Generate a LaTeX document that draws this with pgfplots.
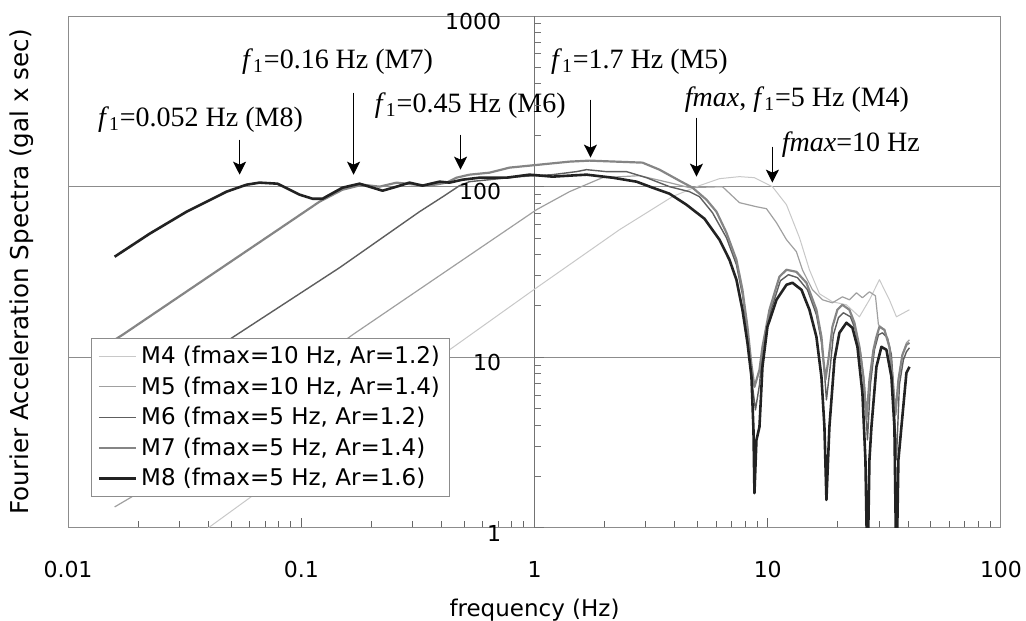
\documentclass[border=0pt]{standalone}
\usepackage{fontspec}
\setmainfont{DejaVu Sans}
\newfontfamily\seriffont{Liberation Serif}
\usepackage{pgfplots}
\pgfplotsset{compat=1.18}
\usetikzlibrary{arrows.meta}
\definecolor{cM4}{HTML}{C8C8C8}
\definecolor{cM5}{HTML}{A0A0A0}
\definecolor{cM6}{HTML}{5E5E5E}
\definecolor{cM7}{HTML}{858585}
\definecolor{cM8}{HTML}{222222}
\definecolor{frame}{HTML}{8C8C8C}
\begin{document}
\begin{tikzpicture}
\begin{axis}[name=main,
  scale only axis, width=466.5pt, height=256pt,
  xmode=log, ymode=log,
  xmin=0.01, xmax=100, ymin=1, ymax=1000,
  clip mode=individual,
  axis line style={draw=frame, line width=0.5pt},
  xtick={0.01,0.1,1,10,100}, xticklabels={0.01,0.1,1,10,100},
  xtick pos=bottom, tick align=inside,
  x tick style={draw=black!60, line width=0.5pt},
  major tick length=5pt, minor tick length=3.5pt,
  xticklabel style={font=\fontsize{11}{13}\selectfont, yshift=-13pt},
  ytick=\empty, yminorticks=false,
  xlabel={frequency (Hz)},
  xlabel style={at={(axis description cs:0.5,-0.16)}, anchor=center, font=\fontsize{11.5}{13}\selectfont},
  ylabel={Fourier Acceleration Spectra (gal x sec)},
  ylabel style={at={(axis description cs:-0.0493,0.5)}, anchor=center, font=\fontsize{12.3}{14}\selectfont},
  legend style={at={(0.0247,0.0605)}, anchor=south west, draw=frame, line width=0.5pt, fill=white,
    font=\fontsize{11.5}{13}\selectfont, inner xsep=3pt, inner ysep=2pt, row sep=1pt},
  legend cell align=left,
  legend image code/.code={\draw[#1] (0pt,0pt) -- (18.5pt,0pt);},
]
\draw[frame, line width=0.5pt] (axis cs:0.01,10) -- (axis cs:100,10);
\draw[frame, line width=0.5pt] (axis cs:0.01,100) -- (axis cs:100,100);
\draw[black!55, line width=0.5pt] (axis cs:1,1) -- (axis cs:1,1000);
\coordinate (BL) at (rel axis cs:-0.0729,-0.1816);
\coordinate (TR) at (rel axis cs:1.0268,1.0313);

\addplot[cM4, line width=0.5pt, line join=round] coordinates {
(0.01584,0.40) (0.04045,1.014) (0.06003,1.50) (0.4322,11.07) (1.020,25.56) (2.314,55.95) (3.904,87.4) (4.948,100.0) (6.209,111.4) (7.562,114.5) (8.770,112.9) (10.47,100.0) (12.03,78.4) (13.68,50.2) (15.09,32.6) (16.66,23.57) (18.94,21.16) (21.74,20.32) (24.72,17.28) (27.29,21.74) (30.12,28.5) (33.23,21.74) (35.62,17.28) (40.50,19.0)
};
\addlegendentry{M4 (fmax=10 Hz, Ar=1.2)}
\addplot[cM5, line width=0.6pt, line join=round] coordinates {
(0.01584,1.328) (0.01874,1.52) (0.06003,4.92) (0.1659,13.55) (0.4322,33.0) (1.020,73.3) (1.413,93.5) (1.956,112.9) (2.818,116.0) (3.790,105.6) (4.618,98.7) (6.394,100.0) (7.562,80.6) (8.944,76.3) (9.872,74.3) (10.90,61.5) (12.03,48.9) (13.27,41.6) (14.08,32.6) (15.55,24.88) (17.16,21.74) (18.94,20.87) (20.90,22.63) (22.39,21.74) (24.00,23.89) (25.46,22.34) (27.29,24.22) (28.95,22.95) (29.83,15.51) (31.64,14.50) (33.23,11.52) (34.23,7.69) (35.27,4.60) (36.33,7.38) (37.79,10.34) (39.32,12.17) (40.50,12.66)
};
\addlegendentry{M5 (fmax=10 Hz, Ar=1.4)}
\addplot[cM6, line width=0.7pt, line join=round] coordinates {
(0.01584,4.66) (0.0528,13.55) (0.1459,33.5) (0.3214,71.35) (0.4113,88.6) (0.4771,101.4) (0.5265,107.0) (0.6414,109.9) (0.8623,114.5) (1.195,117.6) (1.514,122.5) (1.671,125.8) (2.035,122.5) (2.480,122.5) (3.020,112.9) (3.790,100.0) (4.618,93.5) (5.096,87.4) (5.794,70.4) (6.653,50.2) (7.341,34.9) (7.791,23.3) (8.185,14.11) (8.514,7.58) (8.857,4.92) (9.214,6.90) (9.491,11.07) (10.27,18.49) (11.33,28.1) (12.27,30.5) (13.41,29.3) (14.80,24.88) (16.17,17.76) (16.99,12.33) (17.50,8.22) (17.85,5.63) (18.57,9.04) (19.12,13.55) (20.09,17.05) (21.11,18.24) (22.62,17.28) (23.76,14.50) (24.96,10.77) (25.97,6.90) (26.76,3.28) (27.55,6.90) (28.67,11.07) (29.83,13.55) (31.02,13.92) (32.60,13.01) (33.90,10.34) (34.57,6.90) (35.62,2.51) (36.69,6.90) (38.16,9.67) (39.32,10.77) (40.50,11.37)
};
\addlegendentry{M6 (fmax=5 Hz, Ar=1.2)}
\addplot[cM7, line width=1.1pt, line join=round] coordinates {
(0.01584,12.66) (0.01714,13.55) (0.03664,27.35) (0.08072,56.7) (0.1198,81.7) (0.1503,96.0) (0.1832,102.7) (0.2166,100.0) (0.2562,105.6) (0.3120,102.7) (0.3548,101.4) (0.4196,105.6) (0.4629,112.9) (0.5265,117.6) (0.6414,120.8) (0.7813,129.3) (0.9519,132.8) (1.413,140.2) (1.721,142.1) (2.904,138.3) (3.434,125.8) (4.183,108.4) (4.756,98.7) (5.461,83.9) (6.027,71.35) (6.653,53.7) (7.341,37.3) (7.791,24.88) (8.185,15.10) (8.514,9.04) (8.770,6.71) (9.214,8.45) (9.491,11.52) (10.17,19.0) (11.22,29.66) (12.03,32.6) (13.27,31.7) (14.65,27.35) (16.17,19.0) (16.99,13.19) (17.33,9.67) (17.67,7.38) (18.20,9.67) (18.94,15.10) (19.89,19.0) (20.90,20.32) (22.39,19.0) (23.53,15.94) (24.72,11.52) (25.71,7.69) (26.49,4.30) (27.29,7.38) (28.39,11.07) (29.24,13.19) (30.12,15.10) (31.64,14.50) (33.23,11.52) (34.23,7.69) (35.27,4.60) (36.33,7.38) (37.79,10.34) (39.32,11.84) (40.50,12.17)
};
\addlegendentry{M7 (fmax=5 Hz, Ar=1.4)}
\addplot[cM8, line width=1.3pt, line join=round] coordinates {
(0.01584,38.86) (0.02238,53.0) (0.03224,71.35) (0.04785,93.5) (0.05826,102.7) (0.06628,105.6) (0.07913,104.1) (0.09833,89.8) (0.1118,85.0) (0.1234,85.0) (0.1503,98.7) (0.1778,104.1) (0.2231,94.7) (0.2562,100.0) (0.2912,105.6) (0.3311,101.4) (0.3916,107.0) (0.4322,105.6) (0.4913,109.9) (0.5810,112.9) (0.7586,112.9) (0.9519,117.6) (1.195,114.5) (1.671,117.6) (2.160,112.9) (2.736,107.0) (3.205,98.7) (3.790,90.97) (4.483,78.4) (5.354,64.9) (6.209,48.9) (6.852,37.3) (7.341,28.5) (7.791,19.0) (8.185,12.17) (8.514,7.69) (8.685,3.76) (8.770,1.60) (8.944,3.28) (9.214,3.91) (9.491,8.80) (9.970,15.10) (10.90,21.74) (12.03,26.62) (12.76,27.35) (13.95,24.88) (15.09,19.0) (16.17,13.19) (16.99,7.69) (17.50,3.91) (17.85,1.46) (18.38,3.91) (19.32,9.67) (20.29,13.92) (21.74,15.94) (23.07,14.90) (24.24,11.52) (25.46,6.19) (26.23,2.51) (26.76,0.5) (27.29,2.51) (27.83,3.91) (29.24,8.80) (30.72,11.52) (32.27,11.07) (33.90,7.69) (34.92,3.91) (35.62,0.5) (36.33,2.51) (37.42,3.91) (39.32,8.11) (40.50,8.80)
};
\addlegendentry{M8 (fmax=5 Hz, Ar=1.6)}

% annotations
\begin{scope}[font=\fontsize{14}{16}\selectfont\seriffont]
\node[inner sep=0pt] at (axis cs:0.0370,247.2) {\textit{f}\textsubscript{1}=0.052 Hz (M8)};
\node[inner sep=0pt] at (axis cs:0.1431,541) {\textit{f}\textsubscript{1}=0.16 Hz (M7)};
\node[inner sep=0pt, anchor=west] at (axis cs:0.2061,298.6) {\textit{f}\textsubscript{1}=0.45 Hz (M6)};
\node[inner sep=0pt] at (axis cs:2.818,541) {\textit{f}\textsubscript{1}=1.7 Hz (M5)};
\node[inner sep=0pt, anchor=west] at (axis cs:4.395,323.8) {\textit{fmax}, \textit{f}\textsubscript{1}=5 Hz (M4)};
\node[inner sep=0pt, anchor=west] at (axis cs:11.45,176.3) {\textit{fmax}=10 Hz};
\end{scope}
\begin{scope}[-{Stealth[length=6.5pt,width=6.5pt,inset=1.5pt]}, line width=0.6pt, black]
\draw (axis cs:0.0544,188.7) -- (axis cs:0.0544,117.6);
\draw (axis cs:0.1676,355.9) -- (axis cs:0.1676,117.6);
\draw (axis cs:0.4818,201.8) -- (axis cs:0.4818,125.8);
\draw (axis cs:1.738,323.8) -- (axis cs:1.738,147.9);
\draw (axis cs:4.948,253.9) -- (axis cs:4.948,114.5);
\draw (axis cs:10.47,171.7) -- (axis cs:10.47,105.6);
\end{scope}
\end{axis}

% tick marks and labels of the y axis drawn at x = 1 (the middle of the box)
\foreach \d in {0,1,2}{
  \foreach \v in {2,...,9}{
    \draw[black!55, line width=0.5pt] ([yshift={256pt*(\d+ln(\v)/ln(10))/3}]main.south) -- ++(3pt,0);
  }
  \draw[black!55, line width=0.5pt] ([yshift={256pt*\d/3}]main.south) -- ++(4.5pt,0);
}
\foreach \lab/\k in {1/0,10/1,100/2,1000/3}{
  \node[anchor=east, inner sep=0pt, font=\fontsize{11}{13}\selectfont]
    at ([xshift=-16.5pt, yshift={256pt*\k/3-2.5pt}]main.south) {\lab};
}
\pgfresetboundingbox
\useasboundingbox (BL) rectangle (TR);
\end{tikzpicture}
\end{document}
